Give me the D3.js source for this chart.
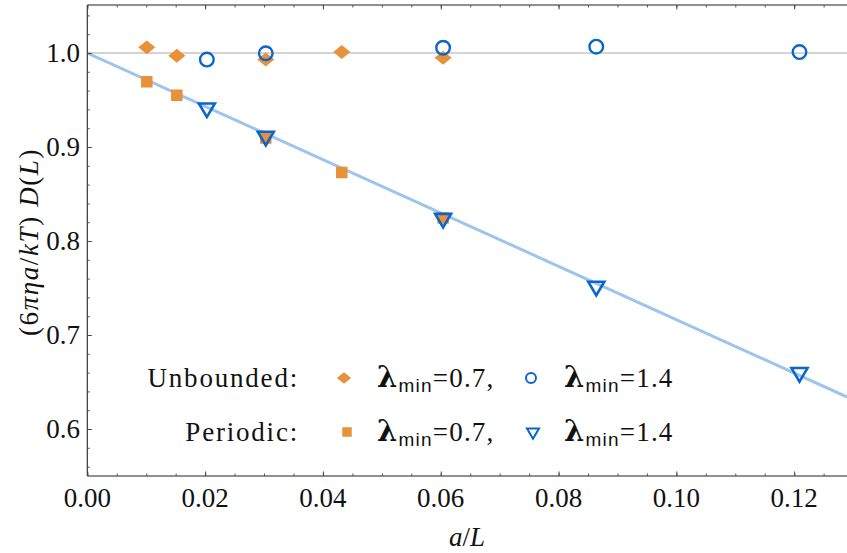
<!DOCTYPE html>
<html>
<head>
<meta charset="utf-8">
<script src="https://cdn.jsdelivr.net/npm/d3@7"></script>
<style>
  body { margin: 0; background: #fff; }
  svg { display: block; }
</style>
</head>
<body>
<svg id="chart" width="847" height="553"></svg>
<script>
// values
var unbounded07X = [0.0101, 0.0152, 0.0303, 0.0432, 0.0604];
var unbounded07Y = [1.006, 0.997, 0.993, 1.001, 0.995];
var unbounded14X = [0.0203, 0.0303, 0.0604, 0.0864, 0.1209];
var unbounded14Y = [0.993, 0.9997, 1.0056, 1.0067, 1.001];
var periodic07X = [0.0101, 0.0152, 0.0303, 0.0432, 0.0604];
var periodic07Y = [0.9695, 0.955, 0.9095, 0.873, 0.8245];
var periodic14X = [0.0203, 0.0303, 0.0604, 0.0864, 0.1209];
var periodic14Y = [0.9415, 0.9114, 0.824, 0.7518, 0.660];
var fitX = [0, 0.129];
var fitY = [1.0, 0.634];
var xTicks = [0, 0.02, 0.04, 0.06, 0.08, 0.10, 0.12];
var yTicks = [0.6, 0.7, 0.8, 0.9, 1.0];
var legendRows = ["Unbounded:", "Periodic:"];
var legendLambdas = ["0.7,", "1.4"];

(function () {
var ORANGE = "#E8903A", BLUE = "#0B66CC", FIT = "#9DC4EC";
var serif = "'Liberation Serif', 'Times New Roman', serif";

var svg = d3.select("#chart");
var mLeft = 87.3, mRight = 847.2, mTop = 6, mBottom = 476;

var x = d3.scaleLinear().domain([0, 0.129]).range([mLeft, mRight]);
var y = d3.scaleLinear().domain([0.55, 1.05]).range([mBottom, mTop]);

function zip(xs, ys) { return xs.map(function (v, i) { return [v, ys[i]]; }); }
function at(d) { return "translate(" + x(d[0]) + "," + y(d[1]) + ")"; }

svg.append("defs").append("clipPath").attr("id", "clip")
    .append("rect").attr("x", mLeft).attr("y", mTop - 1).attr("width", mRight - mLeft).attr("height", mBottom - mTop + 1);
var plot = svg.append("g").attr("clip-path", "url(#clip)");

// reference line at 1.0
plot.append("line")
    .attr("x1", x(0)).attr("x2", x(0.129))
    .attr("y1", y(1)).attr("y2", y(1))
    .attr("stroke", "#c6c6c6").attr("stroke-width", 1.4);

// fit line
plot.append("path")
    .datum(zip(fitX, fitY))
    .attr("d", d3.line().x(function (d) { return x(d[0]); }).y(function (d) { return y(d[1]); }))
    .attr("fill", "none").attr("stroke", FIT).attr("stroke-width", 3);

// marker shapes
function diamond(s) { var w = s * 0.55, h = s * 0.45; return "M0," + (-h) + "L" + w + ",0L0," + h + "L" + (-w) + ",0Z"; }
function square(s) { var h = s / 2; return "M" + (-h) + "," + (-h) + "H" + h + "V" + h + "H" + (-h) + "Z"; }
function triangle(s) { var w = s / 2, h = s * 0.85; return "M" + (-w) + "," + (-h / 3) + "L" + w + "," + (-h / 3) + "L0," + (2 * h / 3) + "Z"; }

plot.selectAll(".ud").data(zip(unbounded07X, unbounded07Y)).enter().append("path")
    .attr("transform", at).attr("d", diamond(15.5)).attr("fill", ORANGE);

plot.selectAll(".ps").data(zip(periodic07X, periodic07Y)).enter().append("path")
    .attr("transform", at).attr("d", square(11.5)).attr("fill", ORANGE);

plot.selectAll(".uc").data(zip(unbounded14X, unbounded14Y)).enter().append("circle")
    .attr("cx", function (d) { return x(d[0]); }).attr("cy", function (d) { return y(d[1]); })
    .attr("r", 6.8).attr("fill", "none").attr("stroke", BLUE).attr("stroke-width", 2.4);

plot.selectAll(".pt").data(zip(periodic14X, periodic14Y)).enter().append("path")
    .attr("transform", at).attr("d", triangle(16)).attr("fill", "none").attr("stroke", BLUE)
    .attr("stroke-width", 2.6).attr("stroke-linejoin", "miter");

// frame
var frame = svg.append("g").attr("stroke", "#222").attr("stroke-width", 1.1);
frame.append("line").attr("x1", mLeft).attr("x2", mLeft).attr("y1", mTop - 1).attr("y2", mBottom);
frame.append("line").attr("x1", mLeft).attr("x2", 847).attr("y1", mBottom).attr("y2", mBottom);
frame.append("line").attr("x1", mLeft).attr("x2", 847).attr("y1", mTop - 1).attr("y2", mTop - 1);

// ticks (inward)
var xMinor = d3.range(0, 0.1291, 0.005);
var yMinor = d3.range(0.56, 1.05, 0.02);
function tickGroup(axis, tr, vals, size, col) {
    svg.append("g").attr("transform", tr)
        .call(axis.tickValues(vals).tickSize(size).tickFormat(""))
        .call(function (g) { g.select(".domain").remove(); g.selectAll("line").attr("stroke", col); });
}
tickGroup(d3.axisTop(x), "translate(0," + mBottom + ")", xMinor, 2.5, "#555");
tickGroup(d3.axisTop(x), "translate(0," + mBottom + ")", xTicks, 4.5, "#444");
tickGroup(d3.axisBottom(x), "translate(0," + (mTop - 1) + ")", xMinor, 2.5, "#555");
tickGroup(d3.axisBottom(x), "translate(0," + (mTop - 1) + ")", xTicks, 4.5, "#444");
tickGroup(d3.axisRight(y), "translate(" + mLeft + ",0)", yMinor, 2.5, "#555");
tickGroup(d3.axisRight(y), "translate(" + mLeft + ",0)", yTicks, 4.5, "#444");

// tick labels
svg.selectAll(".xl").data(xTicks).enter().append("text")
    .attr("x", function (d) { return x(d); }).attr("y", 507)
    .attr("text-anchor", "middle").attr("font-family", serif).attr("font-size", 27)
    .attr("fill", "#111").text(function (d) { return d3.format(".2f")(d); });
svg.selectAll(".yl").data(yTicks).enter().append("text")
    .attr("x", 80).attr("y", function (d) { return y(d) + 9; })
    .attr("text-anchor", "end").attr("font-family", serif).attr("font-size", 27)
    .attr("fill", "#111").text(function (d) { return d3.format(".1f")(d); });

// axis titles
var xt = svg.append("text").attr("x", 467).attr("y", 546).attr("text-anchor", "middle")
    .attr("font-family", serif).attr("font-size", 27).attr("fill", "#111");
xt.append("tspan").attr("font-style", "italic").text("a");
xt.append("tspan").text("/");
xt.append("tspan").attr("font-style", "italic").text("L");

var yt = svg.append("text").attr("transform", "translate(38,242) rotate(-90)").attr("text-anchor", "middle")
    .attr("font-family", serif).attr("font-size", 27).attr("letter-spacing", 1.6).attr("fill", "#111");
[["(6", 0], ["πηa", 1], ["/", 0], ["kT", 1], [") ", 0], ["D", 1], ["(", 0], ["L", 1], [")", 0]].forEach(function (p) {
    yt.append("tspan").attr("font-style", p[1] ? "italic" : "normal").text(p[0]);
});

// legend
var rowY = [378, 432];
var legend = svg.append("g").attr("font-family", serif).attr("font-size", 27).attr("fill", "#111");
legendRows.forEach(function (label, i) {
    legend.append("text").attr("x", 299).attr("y", rowY[i] + 9).attr("text-anchor", "end")
        .attr("letter-spacing", 1.8).text(label);
    [377, 564].forEach(function (tx, j) {
        var t = legend.append("text").attr("x", tx).attr("y", rowY[i] + 9).attr("letter-spacing", 1.2);
        t.append("tspan").attr("font-weight", "bold").attr("font-size", 29).attr("font-family", "'DejaVu Serif', serif").text("λ");
        t.append("tspan").attr("font-family", "'Liberation Sans', sans-serif").attr("font-size", 19).attr("dy", 5).text("min");
        t.append("tspan").attr("dy", -5).text("=" + legendLambdas[j]);
    });
});
legend.append("path").attr("transform", "translate(344," + rowY[0] + ")").attr("d", diamond(13)).attr("fill", ORANGE);
legend.append("circle").attr("cx", 531).attr("cy", rowY[0]).attr("r", 5).attr("fill", "none").attr("stroke", BLUE).attr("stroke-width", 2);
legend.append("path").attr("transform", "translate(347," + rowY[1] + ")").attr("d", square(9.5)).attr("fill", ORANGE);
legend.append("path").attr("transform", "translate(533," + rowY[1] + ")").attr("d", triangle(12)).attr("fill", "none").attr("stroke", BLUE).attr("stroke-width", 2);
})();
</script>
</body>
</html>
